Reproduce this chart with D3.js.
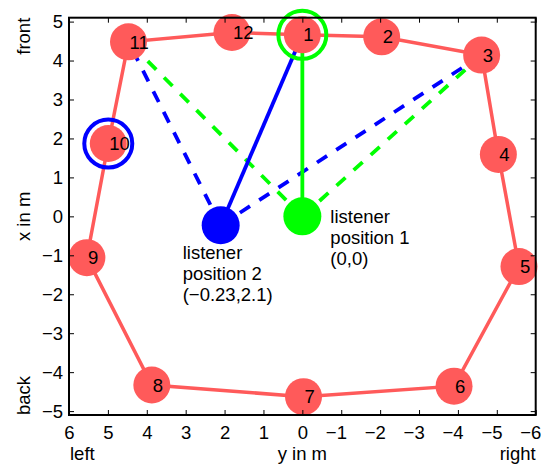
<!DOCTYPE html>
<html>
<head>
<meta charset="utf-8">
<script src="https://cdn.jsdelivr.net/npm/d3@7"></script>
<style>
  html, body { margin: 0; padding: 0; background: #fff; }
  text { font-family: "Liberation Sans", Arial, sans-serif; }
</style>
</head>
<body>
<svg id="chart" width="541" height="466"></svg>
<script>
// ---- data ----
const speakerIds = [1, 2, 3, 4, 5, 6, 7, 8, 9, 10, 11, 12];
const speakerY = [0, -2.04, -4.61, -5.04, -5.57, -3.90, -0.03, 3.87, 5.54, 4.99, 4.47, 1.81];
const speakerX = [4.66, 4.61, 4.14, 1.59, -1.29, -4.36, -4.63, -4.33, -1.06, 1.87, 4.48, 4.72];
const listenerNames = ["listener 1", "listener 2"];
const listenerY = [0, 2.1];
const listenerX = [0, -0.23];
const listenerLabels = [
  ["listener", "position 1", "(0,0)"],
  ["listener", "position 2", "(\u22120.23,2.1)"]
];
const xTicks = [6, 5, 4, 3, 2, 1, 0, -1, -2, -3, -4, -5, -6];
const yTicks = [-5, -4, -3, -2, -1, 0, 1, 2, 3, 4, 5];
// which speaker each listener points to (solid) and dashed targets
const solidTarget = [1, 1];
const dashedTargets = [[11, 3], [11, 3]];
const ringSpeaker = [1, 10];

// ---- layout ----
const svg = d3.select("#chart");
const L = 69, R = 535.7, T = 17.7, B = 415;
const x = d3.scaleLinear().domain([6, -6]).range([L, R]);
const y = d3.scaleLinear().domain([-5.1, 5.1]).range([B, T]);
const red = "rgb(255,90,90)";
const lcol = ["#00ff00", "#0000ff"];
const fs = 18.5;

const sp = speakerIds.map((id, i) => ({id, y: speakerY[i], x: speakerX[i]}));
const ls = listenerNames.map((n, i) => ({name: n, y: listenerY[i], x: listenerX[i], lab: listenerLabels[i]}));
const spById = id => sp.find(s => s.id === id);

// red polygon
const line = d3.line().x(d => x(d.y)).y(d => y(d.x));
svg.append("path").attr("d", line(sp.concat([sp[0]])))
  .attr("fill", "none").attr("stroke", red).attr("stroke-width", 3.5);

// dashed lines
ls.forEach((l, i) => {
  dashedTargets[i].forEach(t => {
    const s = spById(t);
    svg.append("line")
      .attr("x1", x(l.y)).attr("y1", y(l.x)).attr("x2", x(s.y)).attr("y2", y(s.x))
      .attr("stroke", lcol[i]).attr("stroke-width", 3.8).attr("stroke-dasharray", "12,11");
  });
});
// solid lines
ls.forEach((l, i) => {
  const s = spById(solidTarget[i]);
  svg.append("line")
    .attr("x1", x(l.y)).attr("y1", y(l.x)).attr("x2", x(s.y)).attr("y2", y(s.x))
    .attr("stroke", lcol[i]).attr("stroke-width", 3.8);
});

// speakers
svg.selectAll("circle.sp").data(sp).enter().append("circle")
  .attr("class", "sp").attr("cx", d => x(d.y)).attr("cy", d => y(d.x)).attr("r", 18.5)
  .attr("fill", red);
svg.selectAll("text.sp").data(sp).enter().append("text")
  .attr("class", "sp").attr("x", d => x(d.y) + 1).attr("y", d => y(d.x))
  .attr("dy", "0.36em").attr("font-size", fs).attr("fill", "#000").text(d => d.id);

// listeners
svg.selectAll("circle.ls").data(ls).enter().append("circle")
  .attr("class", "ls").attr("cx", d => x(d.y)).attr("cy", d => y(d.x)).attr("r", 19)
  .attr("fill", (d, i) => lcol[i]);

// rings
ringSpeaker.forEach((id, i) => {
  const s = spById(id);
  svg.append("circle").attr("cx", x(s.y)).attr("cy", y(s.x)).attr("r", 24)
    .attr("fill", "none").attr("stroke", lcol[i]).attr("stroke-width", 4);
});

// listener labels
const labOff = [[28, 7], [-38, 34]];
ls.forEach((l, i) => {
  const t = svg.append("text").attr("font-size", fs).attr("fill", "#000");
  l.lab.forEach((s, k) => {
    t.append("tspan").attr("x", x(l.y) + labOff[i][0]).attr("y", y(l.x) + labOff[i][1] + k * 20.8).text(s);
  });
});

// ---- axes ----
const gB = svg.append("g").attr("transform", `translate(0,${B})`)
  .call(d3.axisBottom(x).tickValues(xTicks).tickSizeInner(-5).tickSizeOuter(0).tickPadding(11));
const gT = svg.append("g").attr("transform", `translate(0,${T})`)
  .call(d3.axisTop(x).tickValues(xTicks).tickSizeInner(-5).tickSizeOuter(0).tickFormat(""));
const gL = svg.append("g").attr("transform", `translate(${L},0)`)
  .call(d3.axisLeft(y).tickValues(yTicks).tickSizeInner(-5).tickSizeOuter(0).tickPadding(6));
const gR = svg.append("g").attr("transform", `translate(${R},0)`)
  .call(d3.axisRight(y).tickValues(yTicks).tickSizeInner(-5).tickSizeOuter(0).tickFormat(""));
[gB, gT, gL, gR].forEach(g => {
  g.select(".domain").remove();
  g.selectAll(".tick line").attr("stroke", "#000").attr("stroke-width", 1);
  g.selectAll(".tick text").attr("font-size", fs).attr("fill", "#000")
    .attr("font-family", "Liberation Sans, Arial, sans-serif");
});
// center the digits on the tick; the minus sign hangs to the left
gB.selectAll(".tick text").attr("dx", d => d < 0 ? -fs * 0.29 : 0);
svg.append("rect").attr("x", L).attr("y", T).attr("width", R - L).attr("height", B - T)
  .attr("fill", "none").attr("stroke", "#000").attr("stroke-width", 2);

// axis labels
svg.append("text").attr("x", (L + R) / 2).attr("y", 460).attr("text-anchor", "middle")
  .attr("font-size", fs).text("y in m");
svg.append("text").attr("x", L + 1).attr("y", 460).attr("text-anchor", "start")
  .attr("font-size", fs).text("left");
svg.append("text").attr("x", R).attr("y", 460).attr("text-anchor", "end")
  .attr("font-size", fs).text("right");
svg.append("text").attr("transform", `translate(30,${(T + B) / 2}) rotate(-90)`)
  .attr("text-anchor", "middle").attr("font-size", fs).text("x in m");
svg.append("text").attr("transform", `translate(30,${T}) rotate(-90)`)
  .attr("text-anchor", "end").attr("font-size", fs).text("front");
svg.append("text").attr("transform", `translate(30,${B}) rotate(-90)`)
  .attr("text-anchor", "start").attr("font-size", fs).text("back");
</script>
</body>
</html>
